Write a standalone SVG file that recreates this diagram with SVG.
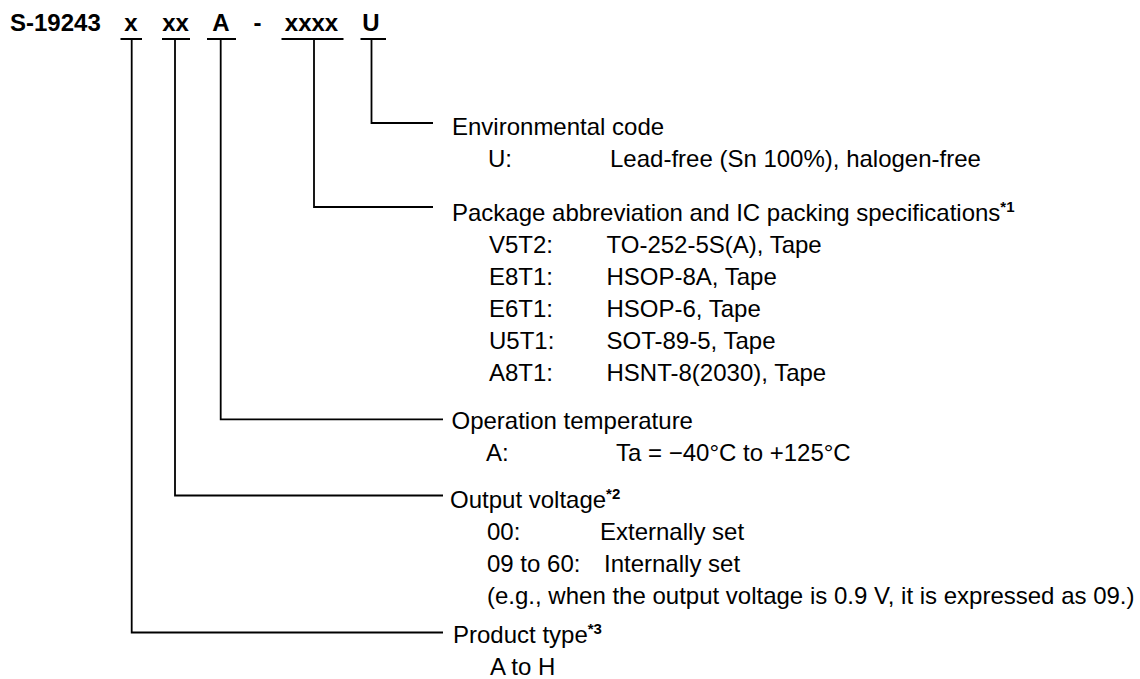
<svg xmlns="http://www.w3.org/2000/svg" width="1140" height="679" viewBox="0 0 1140 679">
<style>
text{font-family:"Liberation Sans",Arial,sans-serif;fill:#000}
.t{font-size:24px;font-weight:bold}
.b{font-size:24px}
.s{font-size:15px;font-weight:bold}
.ln{stroke:#000;stroke-width:1.8;fill:none}
</style>
<rect width="1140" height="679" fill="#fff"/>
<g id="title">
<text class="t" x="10" y="31">S-19243</text>
<text class="t" x="131" y="31" text-anchor="middle">x</text>
<text class="t" x="175.5" y="31" text-anchor="middle">xx</text>
<text class="t" x="221" y="31" text-anchor="middle">A</text>
<text class="t" x="257.5" y="31" text-anchor="middle">-</text>
<text class="t" x="311.5" y="31" text-anchor="middle">xxxx</text>
<text class="t" x="371" y="31" text-anchor="middle">U</text>
</g>
<g id="connectors" class="ln">
<path d="M120.5 39H142M162 39H190M207 39H236M281.5 39H343.5M360.5 39H386"/>
<path d="M371.5 39V123H433"/>
<path d="M314 39V207H433"/>
<path d="M220.7 39V419.3H443"/>
<path d="M175 39V495.5H443"/>
<path d="M131.7 39V632.5H443"/>
</g>
<g id="env">
<text class="b" x="452" y="135">Environmental code</text>
<text class="b" x="488" y="167">U:</text>
<text class="b" x="610" y="167">Lead-free (Sn 100%), halogen-free</text>
</g>
<g id="package">
<text class="b" x="452" y="221">Package abbreviation and IC packing specifications<tspan class="s" dy="-9">*1</tspan></text>
<text class="b" x="489" y="253">V5T2:</text><text class="b" x="606.5" y="253">TO-252-5S(A), Tape</text>
<text class="b" x="489" y="285">E8T1:</text><text class="b" x="606.5" y="285">HSOP-8A, Tape</text>
<text class="b" x="489" y="317">E6T1:</text><text class="b" x="606.5" y="317">HSOP-6, Tape</text>
<text class="b" x="489" y="349">U5T1:</text><text class="b" x="606.5" y="349">SOT-89-5, Tape</text>
<text class="b" x="489" y="381">A8T1:</text><text class="b" x="606.5" y="381">HSNT-8(2030), Tape</text>
</g>
<g id="temp">
<text class="b" x="451.5" y="429">Operation temperature</text>
<text class="b" x="486" y="461">A:</text>
<text class="b" x="616" y="461">Ta = −40°C to +125°C</text>
</g>
<g id="voltage">
<text class="b" x="450" y="508">Output voltage<tspan class="s" dy="-9">*2</tspan></text>
<text class="b" x="487" y="540">00:</text><text class="b" x="600" y="540">Externally set</text>
<text class="b" x="487" y="572">09 to 60:</text><text class="b" x="604" y="572">Internally set</text>
<text class="b" x="487" y="604">(e.g., when the output voltage is 0.9 V, it is expressed as 09.)</text>
</g>
<g id="product">
<text class="b" x="453" y="643">Product type<tspan class="s" dy="-9">*3</tspan></text>
<text class="b" x="490" y="675">A to H</text>
</g>
</svg>
